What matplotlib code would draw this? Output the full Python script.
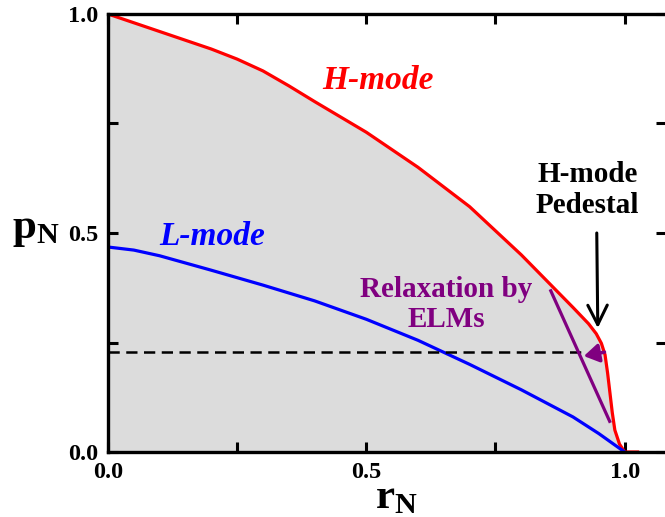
import numpy as np
import matplotlib
matplotlib.use('Agg')
import matplotlib.pyplot as plt
from matplotlib.ticker import MultipleLocator

plt.rcParams['font.family'] = ['Liberation Serif', 'DejaVu Serif']
plt.rcParams['font.weight'] = 'bold'
plt.rcParams['mathtext.fontset'] = 'custom'
plt.rcParams['mathtext.rm'] = 'Liberation Serif'
plt.rcParams['mathtext.bf'] = 'Liberation Serif:bold'
plt.rcParams['mathtext.it'] = 'Liberation Serif:italic'

# H-mode profile
r_h = [0.0, 0.1, 0.2, 0.25, 0.3, 0.35, 0.4, 0.5, 0.6, 0.7, 0.8, 0.85, 0.9, 0.93,
       0.945, 0.955, 0.962, 0.967, 0.972, 0.976, 0.981, 0.99, 1.0, 1.025]
p_h = [1.0, 0.96, 0.92, 0.897, 0.87, 0.836, 0.80, 0.73, 0.65, 0.56, 0.45, 0.39, 0.33,
       0.293, 0.27, 0.248, 0.222, 0.18, 0.13, 0.09, 0.05, 0.018, 0.0, 0.0]

# L-mode profile
r_l = [0.0, 0.05, 0.1, 0.2, 0.3, 0.4, 0.5, 0.6, 0.7, 0.8, 0.9, 0.95, 1.0]
p_l = [0.468, 0.461, 0.448, 0.415, 0.381, 0.345, 0.303, 0.255, 0.200, 0.142, 0.080, 0.042, 0.0]

p_ped = 0.228           # pedestal top level (dashed line)
r_dash_end = 0.925
elm_line_r = [0.857, 0.971]
elm_line_p = [0.368, 0.070]
elm_arrow = [(0.961, 0.228), (0.921, 0.219)]   # (tail, head)
ped_arrow = [(0.946, 0.50), (0.948, 0.283)]

red = '#ff0000'
blue = '#0000ff'
purple = '#800080'

fig = plt.figure(figsize=(6.65, 5.17), dpi=100)
ax = fig.add_axes([108/665, 65/517, 558/665, 438/517])

ax.fill_between(r_h, p_h, 0, color='#dcdcdc', lw=0, zorder=0)
ax.plot(r_h, p_h, color=red, lw=2.3, solid_joinstyle='round')
ax.plot(r_l, p_l, color=blue, lw=2.3, solid_joinstyle='round')
ax.plot([0, r_dash_end], [p_ped, p_ped], color='k', lw=1.8, linestyle=(0, (4.5, 2.6)))
ax.plot(elm_line_r, elm_line_p, color=purple, lw=2.3)

ax.annotate('', xy=elm_arrow[1], xytext=elm_arrow[0],
            arrowprops=dict(arrowstyle='-|>,head_length=0.45,head_width=0.28', color=purple,
                            lw=2.5, shrinkA=0, shrinkB=0, mutation_scale=20))
ax.annotate('', xy=ped_arrow[1], xytext=ped_arrow[0],
            arrowprops=dict(arrowstyle='->,head_length=0.7,head_width=0.35', color='k',
                            lw=2.2, shrinkA=0, shrinkB=0, mutation_scale=20))

ax.text(0.522, 0.849, 'H-mode', color=red, fontsize=24, style='italic', fontweight='bold',
        ha='center', va='center')
ax.text(0.201, 0.493, 'L-mode', color=blue, fontsize=24, style='italic', fontweight='bold',
        ha='center', va='center')
ax.text(0.928, 0.598, 'H-mode\nPedestal', color='k', fontsize=21, fontweight='bold',
        ha='center', va='center', linespacing=1.2)
ax.text(0.654, 0.336, 'Relaxation by\nELMs', color=purple, fontsize=21, fontweight='bold',
        ha='center', va='center', linespacing=1.15)

ax.set_xlim(0, 1.08)
ax.set_ylim(0, 1.0)
ax.xaxis.set_major_locator(MultipleLocator(0.5))
ax.xaxis.set_minor_locator(MultipleLocator(0.25))
ax.yaxis.set_major_locator(MultipleLocator(0.5))
ax.yaxis.set_minor_locator(MultipleLocator(0.25))
ax.xaxis.set_major_formatter(plt.FormatStrFormatter('%.1f'))
ax.yaxis.set_major_formatter(plt.FormatStrFormatter('%.1f'))
ax.tick_params(which='both', direction='in', top=True, right=True, length=7, width=2.2,
               labelsize=17.5, pad=7)

for s in ['left', 'bottom', 'top']:
    ax.spines[s].set_linewidth(2.4)
ax.spines['right'].set_visible(False)

ax.set_xlabel(r'$\mathbf{r}_{\mathrm{N}}$', fontsize=31, va='baseline')
ax.set_ylabel(r'$\mathbf{p}_{\mathrm{N}}$', fontsize=31, rotation=0, va='baseline', ha='center')
ax.xaxis.set_label_coords((396 - 108) / 558, (452 - 508) / 438)
ax.yaxis.set_label_coords((36 - 108) / 558, (452 - 238) / 438)

fig.savefig('out.png', dpi=100)
